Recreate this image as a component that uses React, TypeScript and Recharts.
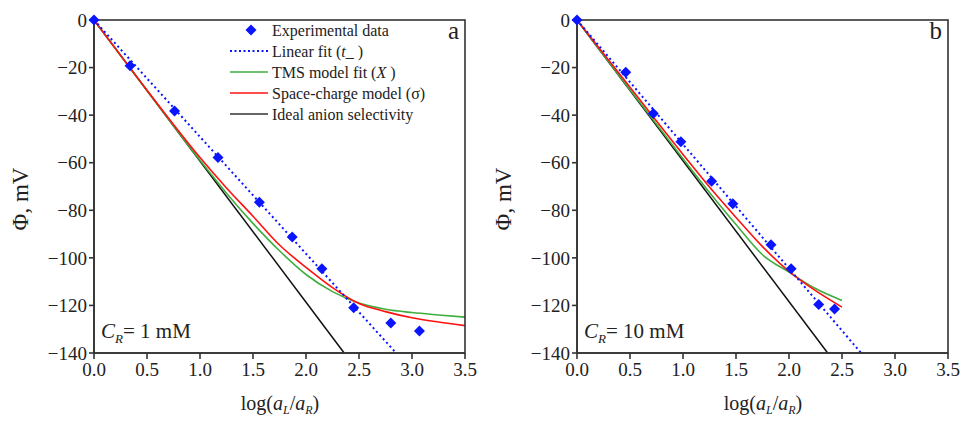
import React from "react";
import { ComposedChart, Line, Scatter, XAxis, YAxis } from "recharts";

// shared axes
const xTicks = [0, 0.5, 1, 1.5, 2, 2.5, 3, 3.5];
const yTicks = [-140, -120, -100, -80, -60, -40, -20, 0];

// panel a (C_R = 1 mM)
const expAx = [0, 0.34, 0.76, 1.17, 1.56, 1.87, 2.15, 2.45, 2.8, 3.07];
const expAy = [0, -19.2, -38.3, -57.8, -76.6, -91.2, -104.6, -121, -127.4, -130.7];
const linAx = [0, 2.85];
const linAy = [0, -140];
const idealAx = [0, 2.36];
const idealAy = [0, -140];
const modelAx = [0, 0.5, 1, 1.25, 1.5, 1.75, 2, 2.25, 2.5, 2.75, 3, 3.25, 3.5];
const tmsAy = [0, -29.6, -59, -72.8, -85.5, -97, -107, -114.2, -119, -121.6, -123, -124, -124.9];
const scAy = [0, -29.5, -57.8, -70.6, -82.5, -94.6, -104, -112.5, -119.2, -122.6, -125.2, -127, -128.5];

// panel b (C_R = 10 mM)
const expBx = [0, 0.46, 0.72, 0.98, 1.27, 1.47, 1.83, 2.02, 2.28, 2.43];
const expBy = [0, -22, -39.3, -51.2, -67.8, -77.3, -94.5, -104.6, -119.6, -121.5];
const linBx = [0, 2.68];
const linBy = [0, -140];
const idealBx = [0, 2.365];
const idealBy = [0, -140];
const modelBx = [0, 0.5, 1, 1.25, 1.5, 1.75, 2, 2.25, 2.5];
const tmsBy = [0, -29.3, -58.3, -72.5, -86, -98.7, -106, -112.9, -117.9];
const scBy = [0, -28.3, -56.5, -70.2, -83, -95.3, -105.7, -113.8, -120.7];

const zip = (xs: number[], ys: number[]) => xs.map((x, i) => ({ x, y: ys[i] }));

const FONT = "'Liberation Serif', 'DejaVu Serif', serif";
const AXIS = "#333";
const INK = "#222";
const BLUE = "#0a14ff";
const GREEN = "#3fae3f";
const RED = "#ff1010";

const Diamond = (props: any) => {
  const { cx, cy } = props;
  const r = 5.5;
  return (
    <polygon
      points={`${cx},${cy - r} ${cx + r},${cy} ${cx},${cy + r} ${cx - r},${cy}`}
      fill={BLUE}
    />
  );
};

const fmtY = (v: number) => (v < 0 ? "\u2212" + Math.abs(v) : String(v));

const XTick = (props: any) => {
  const { x, y, payload } = props;
  return (
    <text x={x} y={y} dy="0.72em" textAnchor="middle" fontFamily={FONT} fontSize={19} fill={INK}>
      {Number(payload.value).toFixed(1)}
    </text>
  );
};

const YTick = (props: any) => {
  const { x, y, payload } = props;
  return (
    <text x={x} y={y} dy="0.35em" textAnchor="end" fontFamily={FONT} fontSize={19} fill={INK}>
      {fmtY(Number(payload.value))}
    </text>
  );
};

function Legend() {
  const rows = [30, 51, 72, 93, 114];
  const x0 = 230;
  const x1 = 268;
  const tx = 272;
  return (
    <g fontFamily={FONT} fontSize={16} fill={INK}>
      <polygon points={`251,24.5 256.5,30 251,35.5 245.5,30`} fill={BLUE} />
      <text x={tx} y={rows[0]} dominantBaseline="central">Experimental data</text>

      <line x1={x0} x2={x1} y1={rows[1]} y2={rows[1]} stroke={BLUE} strokeWidth={2} strokeDasharray="2 2.5" />
      <text x={tx} y={rows[1]} dominantBaseline="central">
        Linear fit (<tspan fontStyle="italic">t</tspan>_ )
      </text>

      <line x1={x0} x2={x1} y1={rows[2]} y2={rows[2]} stroke={GREEN} strokeWidth={1.6} />
      <text x={tx} y={rows[2]} dominantBaseline="central">
        TMS model fit (<tspan fontStyle="italic">X</tspan> )
      </text>

      <line x1={x0} x2={x1} y1={rows[3]} y2={rows[3]} stroke={RED} strokeWidth={1.6} />
      <text x={tx} y={rows[3]} dominantBaseline="central">Space-charge model (σ)</text>

      <line x1={x0} x2={x1} y1={rows[4]} y2={rows[4]} stroke="#333" strokeWidth={1.6} />
      <text x={tx} y={rows[4]} dominantBaseline="central">Ideal anion selectivity</text>
    </g>
  );
}

function PanelText({ letter, conc, legend }: { letter: string; conc: string; legend: boolean }) {
  return (
    <g fontFamily={FONT} fill={INK}>
      <rect x={94} y={20} width={371} height={333} fill="none" stroke={AXIS} strokeWidth={1.6} />
      <text
        x={20}
        y={199}
        fontSize={23}
        textAnchor="middle"
        dominantBaseline="central"
        transform="rotate(-90, 20, 199)"
      >
        Φ, mV
      </text>
      <text x={459} y={39} fontSize={25} textAnchor="end">{letter}</text>
      <text x={101} y={338} fontSize={21}>
        <tspan fontStyle="italic">C</tspan>
        <tspan fontStyle="italic" fontSize={13} dy={5}>R</tspan>
        <tspan dy={-5}>{"= " + conc + " mM"}</tspan>
      </text>
      {legend && <Legend />}
    </g>
  );
}

function XTitle() {
  return (
    <text x={280} y={410} fontFamily={FONT} fontSize={20} fill={INK} textAnchor="middle">
      log(<tspan fontStyle="italic">a</tspan>
      <tspan fontStyle="italic" fontSize={12} dy={4}>L</tspan>
      <tspan dy={-4}>/</tspan>
      <tspan fontStyle="italic">a</tspan>
      <tspan fontStyle="italic" fontSize={12} dy={4}>R</tspan>
      <tspan dy={-4}>)</tspan>
    </text>
  );
}

function Panel({
  exp, lin, ideal, tms, sc, letter, conc, legend,
}: {
  exp: { x: number; y: number }[];
  lin: { x: number; y: number }[];
  ideal: { x: number; y: number }[];
  tms: { x: number; y: number }[];
  sc: { x: number; y: number }[];
  letter: string;
  conc: string;
  legend: boolean;
}) {
  return (
    <ComposedChart width={480} height={422} margin={{ top: 20, right: 15, bottom: 0, left: 0 }}>
      <XAxis
        xAxisId="b"
        type="number"
        dataKey="x"
        domain={[0, 3.5]}
        ticks={xTicks}
        height={69}
        stroke={AXIS}
        strokeWidth={1.6}
        tickSize={6}
        tickMargin={3}
        tick={<XTick />}
        label={{ content: () => <XTitle /> }}
      />
      <YAxis
        yAxisId="l"
        type="number"
        domain={[-140, 0]}
        ticks={yTicks}
        width={94}
        stroke={AXIS}
        strokeWidth={1.6}
        tickSize={5}
        tickMargin={2}
        tick={<YTick />}
        label={{ content: () => <PanelText letter={letter} conc={conc} legend={legend} /> }}
      />
      <Line xAxisId="b" yAxisId="l" data={ideal} dataKey="y" type="linear" stroke="#111" strokeWidth={1.5} dot={false} isAnimationActive={false} />
      <Line xAxisId="b" yAxisId="l" data={tms} dataKey="y" type="monotone" stroke={GREEN} strokeWidth={1.6} dot={false} isAnimationActive={false} />
      <Line xAxisId="b" yAxisId="l" data={sc} dataKey="y" type="monotone" stroke={RED} strokeWidth={1.6} dot={false} isAnimationActive={false} />
      <Line xAxisId="b" yAxisId="l" data={lin} dataKey="y" type="linear" stroke={BLUE} strokeWidth={2} strokeDasharray="2 3" dot={false} isAnimationActive={false} />
      <Scatter xAxisId="b" yAxisId="l" data={exp} dataKey="y" shape={<Diamond />} isAnimationActive={false} />
    </ComposedChart>
  );
}

export default function App() {
  return (
    <div
      style={{
        position: "absolute",
        left: 0,
        top: 0,
        width: 961,
        height: 422,
        background: "#fff",
        fontFamily: FONT,
      }}
    >
      <div style={{ position: "absolute", left: 0, top: 0 }}>
        <Panel
          exp={zip(expAx, expAy)}
          lin={zip(linAx, linAy)}
          ideal={zip(idealAx, idealAy)}
          tms={zip(modelAx, tmsAy)}
          sc={zip(modelAx, scAy)}
          letter="a"
          conc="1"
          legend={true}
        />
      </div>
      <div style={{ position: "absolute", left: 483, top: 0 }}>
        <Panel
          exp={zip(expBx, expBy)}
          lin={zip(linBx, linBy)}
          ideal={zip(idealBx, idealBy)}
          tms={zip(modelBx, tmsBy)}
          sc={zip(modelBx, scBy)}
          letter="b"
          conc="10"
          legend={false}
        />
      </div>
    </div>
  );
}
